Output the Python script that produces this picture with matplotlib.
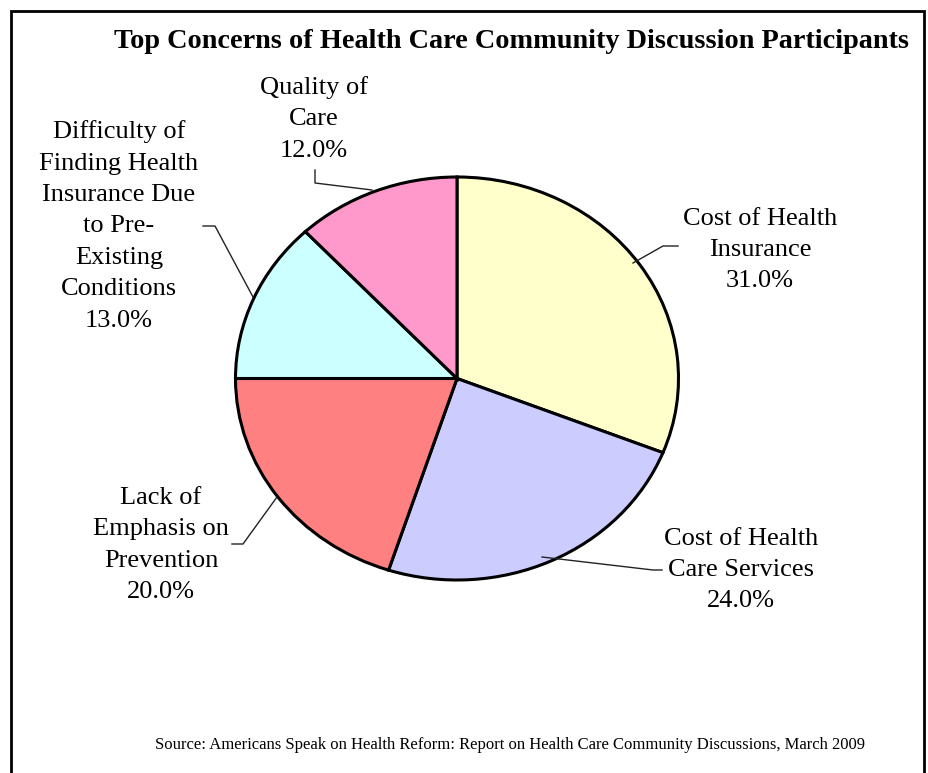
import matplotlib
matplotlib.use("Agg")
import matplotlib.pyplot as plt

plt.rcParams['font.family'] = ['Liberation Serif', 'DejaVu Serif']

categories = ["Cost of Health\nInsurance", "Cost of Health\nCare Services",
              "Lack of\nEmphasis on\nPrevention",
              "Difficulty of\nFinding Health\nInsurance Due\nto Pre-\nExisting\nConditions",
              "Quality of\nCare"]
values = [31.0, 24.0, 20.0, 13.0, 12.0]
colors = ["#FFFFCC", "#CCCCFF", "#FF8080", "#CCFFFF", "#FF99CC"]
title = "Top Concerns of Health Care Community Discussion Participants"
source = "Source: Americans Speak on Health Reform: Report on Health Care Community Discussions, March 2009"

W, H = 929, 773
fig = plt.figure(figsize=(W / 100, H / 100), dpi=100)

# pie axes (elliptical pie)
cx, cy, rx, ry = 457, 378.5, 221.5, 201.5
pax = fig.add_axes([(cx - rx) / W, (H - cy - ry) / H, 2 * rx / W, 2 * ry / H])
pax.pie(values, colors=colors, startangle=90, counterclock=False,
        wedgeprops=dict(edgecolor='black', linewidth=2.2))
pax.set_aspect('auto')
pax.set_xlim(-1, 1)
pax.set_ylim(-1, 1)
pax.axis('off')

# overlay axes in pixel coordinates
ax = fig.add_axes([0, 0, 1, 1], zorder=5)
ax.set_xlim(0, W)
ax.set_ylim(H, 0)
ax.axis('off')
ax.patch.set_alpha(0)

# border
ax.plot([11, 11, 924, 924], [H + 5, 11, 11, H + 5], color='black', lw=2, solid_joinstyle='miter')

ax.text(512, 42, title, ha='center', va='center', fontsize=20.3, fontweight='bold')
ax.text(510, 745, source, ha='center', va='center', fontsize=12)

fs = 19
label_pos = [(760, 250), (741, 570), (161, 545), (119, 226), (314, 119)]
for cat, v, (x, y) in zip(categories, values, label_pos):
    ax.text(x, y, f"{cat}\n{v:.1f}%", ha='center', va='center', fontsize=fs,
            linespacing=1.55)

leaders = [
    [(633, 263), (663, 246), (678, 246)],
    [(542, 557), (653, 570), (662, 570)],
    [(277, 497), (243, 544), (232, 544)],
    [(253, 297), (215, 226), (203, 226)],
    [(372, 190), (315, 183), (315, 170)],
]
for pts in leaders:
    xs, ys = zip(*pts)
    ax.plot(xs, ys, color='#222222', lw=1.0)

fig.savefig("out.png", dpi=100)
